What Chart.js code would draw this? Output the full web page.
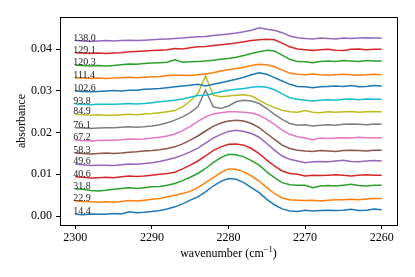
<!DOCTYPE html>
<html>
<head>
<meta charset="utf-8">
<script src="https://cdn.jsdelivr.net/npm/chart.js@4/dist/chart.umd.min.js"></script>
<style>
html,body{margin:0;padding:0;background:#fff;}
#c{display:block;}
</style>
</head>
<body>
<canvas id="c" width="415" height="277"></canvas>
<script>
const wavenumbers = [2300,2299,2298,2297,2296,2295,2294,2293,2292,2291,2290,2289,2288,2287,2286,2285,2284,2283,2282,2281,2280,2279,2278,2277,2276,2275,2274,2273,2272,2271,2270,2269,2268,2267,2266,2265,2264,2263,2262,2261,2260];

const seriesLabels = ['14.4','22.9','31.8','40.6','49.6','58.3','67.2','76.1','84.9','93.8','102.6','111.4','120.3','129.1','138.0'];

const s14_4 = [0.0004,0.0003,0.0005,0.0004,0.0004,0.0006,0.0005,0.0010,0.0008,0.0009,0.0011,0.0013,0.0017,0.0022,0.0029,0.0038,0.0046,0.0058,0.0072,0.0083,0.0090,0.0088,0.0080,0.0068,0.0056,0.0040,0.0027,0.0017,0.0012,0.0011,0.0014,0.0012,0.0013,0.0014,0.0013,0.0014,0.0016,0.0013,0.0014,0.0017,0.0015];
const s22_9 = [0.0036,0.0035,0.0034,0.0033,0.0034,0.0033,0.0035,0.0037,0.0036,0.0038,0.0040,0.0042,0.0046,0.0050,0.0054,0.0059,0.0068,0.0080,0.0092,0.0104,0.0113,0.0112,0.0106,0.0096,0.0084,0.0068,0.0054,0.0043,0.0039,0.0038,0.0037,0.0038,0.0036,0.0038,0.0039,0.0039,0.0040,0.0039,0.0041,0.0042,0.0042];
const s31_8 = [0.0065,0.0064,0.0061,0.0060,0.0062,0.0064,0.0066,0.0068,0.0066,0.0068,0.0070,0.0071,0.0074,0.0078,0.0085,0.0093,0.0102,0.0114,0.0128,0.0140,0.0148,0.0147,0.0142,0.0133,0.0122,0.0106,0.0092,0.0080,0.0075,0.0074,0.0074,0.0068,0.0072,0.0073,0.0072,0.0074,0.0076,0.0073,0.0072,0.0074,0.0074];
const s40_6 = [0.0094,0.0093,0.0091,0.0092,0.0093,0.0092,0.0094,0.0096,0.0095,0.0096,0.0098,0.0100,0.0102,0.0105,0.0113,0.0122,0.0132,0.0144,0.0157,0.0166,0.0172,0.0173,0.0170,0.0162,0.0150,0.0134,0.0120,0.0108,0.0102,0.0100,0.0096,0.0098,0.0097,0.0098,0.0099,0.0098,0.0096,0.0098,0.0099,0.0098,0.0098];
const s49_6 = [0.0124,0.0123,0.0121,0.0122,0.0122,0.0121,0.0123,0.0125,0.0124,0.0126,0.0128,0.0131,0.0135,0.0140,0.0146,0.0154,0.0163,0.0175,0.0187,0.0196,0.0203,0.0206,0.0203,0.0198,0.0189,0.0174,0.0158,0.0144,0.0136,0.0132,0.0128,0.0130,0.0131,0.0130,0.0132,0.0134,0.0131,0.0130,0.0132,0.0133,0.0132];
const s58_3 = [0.0151,0.0150,0.0149,0.0150,0.0151,0.0150,0.0151,0.0153,0.0154,0.0156,0.0157,0.0159,0.0162,0.0166,0.0173,0.0182,0.0192,0.0204,0.0215,0.0223,0.0228,0.0230,0.0228,0.0222,0.0212,0.0198,0.0184,0.0170,0.0162,0.0158,0.0156,0.0155,0.0157,0.0156,0.0155,0.0157,0.0158,0.0157,0.0156,0.0158,0.0158];
const s67_2 = [0.0182,0.0181,0.0180,0.0181,0.0182,0.0182,0.0183,0.0185,0.0184,0.0185,0.0187,0.0189,0.0192,0.0197,0.0205,0.0215,0.0227,0.0238,0.0245,0.0248,0.0250,0.0250,0.0249,0.0247,0.0242,0.0232,0.0220,0.0206,0.0196,0.0190,0.0187,0.0183,0.0187,0.0186,0.0187,0.0188,0.0187,0.0189,0.0188,0.0187,0.0188];
const s76_1 = [0.0212,0.0211,0.0210,0.0211,0.0212,0.0212,0.0213,0.0214,0.0213,0.0214,0.0216,0.0219,0.0224,0.0230,0.0238,0.0248,0.0262,0.0302,0.0262,0.0258,0.0264,0.0274,0.0278,0.0276,0.0270,0.0258,0.0244,0.0232,0.0222,0.0218,0.0219,0.0216,0.0218,0.0219,0.0218,0.0220,0.0221,0.0220,0.0219,0.0221,0.0220];
const s84_9 = [0.0244,0.0243,0.0242,0.0243,0.0242,0.0242,0.0243,0.0244,0.0243,0.0245,0.0246,0.0248,0.0250,0.0253,0.0262,0.0276,0.0294,0.0336,0.0290,0.0286,0.0288,0.0290,0.0291,0.0288,0.0278,0.0268,0.0260,0.0254,0.0250,0.0249,0.0253,0.0249,0.0248,0.0250,0.0249,0.0250,0.0251,0.0249,0.0250,0.0251,0.0250];
const s93_8 = [0.0269,0.0268,0.0267,0.0268,0.0268,0.0268,0.0269,0.0270,0.0269,0.0270,0.0272,0.0274,0.0276,0.0278,0.0281,0.0285,0.0289,0.0290,0.0294,0.0298,0.0302,0.0304,0.0306,0.0309,0.0311,0.0309,0.0303,0.0293,0.0284,0.0280,0.0278,0.0276,0.0278,0.0279,0.0278,0.0280,0.0281,0.0279,0.0281,0.0280,0.0280];
const s102_6 = [0.0300,0.0299,0.0298,0.0299,0.0300,0.0301,0.0300,0.0302,0.0302,0.0304,0.0305,0.0306,0.0308,0.0310,0.0312,0.0314,0.0316,0.0312,0.0316,0.0320,0.0324,0.0328,0.0333,0.0339,0.0344,0.0340,0.0332,0.0324,0.0316,0.0311,0.0310,0.0308,0.0310,0.0311,0.0312,0.0311,0.0313,0.0310,0.0311,0.0313,0.0312];
const s111_4 = [0.0332,0.0331,0.0330,0.0331,0.0330,0.0331,0.0332,0.0333,0.0332,0.0333,0.0334,0.0335,0.0337,0.0338,0.0338,0.0337,0.0339,0.0341,0.0344,0.0348,0.0351,0.0354,0.0357,0.0361,0.0364,0.0363,0.0358,0.0350,0.0343,0.0340,0.0339,0.0341,0.0339,0.0338,0.0339,0.0340,0.0339,0.0338,0.0339,0.0340,0.0339];
const s120_3 = [0.0362,0.0361,0.0360,0.0361,0.0360,0.0361,0.0363,0.0365,0.0364,0.0366,0.0367,0.0368,0.0369,0.0375,0.0369,0.0370,0.0371,0.0372,0.0374,0.0376,0.0378,0.0381,0.0385,0.0390,0.0394,0.0398,0.0396,0.0386,0.0376,0.0371,0.0370,0.0368,0.0371,0.0372,0.0371,0.0373,0.0372,0.0371,0.0373,0.0372,0.0372];
const s129_1 = [0.0392,0.0391,0.0390,0.0391,0.0390,0.0391,0.0392,0.0394,0.0395,0.0396,0.0397,0.0398,0.0399,0.0402,0.0401,0.0404,0.0406,0.0407,0.0409,0.0411,0.0413,0.0415,0.0418,0.0421,0.0423,0.0424,0.0423,0.0415,0.0406,0.0401,0.0399,0.0397,0.0399,0.0400,0.0398,0.0397,0.0400,0.0401,0.0399,0.0400,0.0400];
const s138_0 = [0.0421,0.0420,0.0419,0.0420,0.0421,0.0420,0.0421,0.0422,0.0421,0.0422,0.0423,0.0424,0.0425,0.0426,0.0427,0.0429,0.0430,0.0431,0.0433,0.0435,0.0437,0.0439,0.0442,0.0446,0.0452,0.0448,0.0446,0.0440,0.0432,0.0428,0.0426,0.0425,0.0427,0.0426,0.0425,0.0427,0.0426,0.0427,0.0428,0.0427,0.0427];

const xTicks = [2300, 2290, 2280, 2270, 2260];
const yTicks = [0.00, 0.01, 0.02, 0.03, 0.04];

const allSeries = [s14_4,s22_9,s31_8,s40_6,s49_6,s58_3,s67_2,s76_1,s84_9,s93_8,s102_6,s111_4,s120_3,s129_1,s138_0];
const colors = ['#1f77b4','#ff7f0e','#2ca02c','#d62728','#9467bd','#8c564b','#e377c2','#7f7f7f','#bcbd22','#17becf','#1f77b4','#ff7f0e','#2ca02c','#d62728','#9467bd'];

const FONT = '"Liberation Serif", "Times New Roman", serif';

const datasets = allSeries.map((vals, i) => ({
  label: seriesLabels[i],
  data: wavenumbers.map((w, j) => ({x: w, y: vals[j]})),
  borderColor: colors[i],
  backgroundColor: colors[i],
  borderWidth: 1.5,
  pointRadius: 0,
  tension: 0,
  fill: false,
  order: -i
}));

const overlay = {
  id: 'overlay',
  afterDraw(chart) {
    const ctx = chart.ctx;
    const a = chart.chartArea;
    const xs = chart.scales.x, ys = chart.scales.y;
    ctx.save();
    // top and right spines
    ctx.strokeStyle = '#000';
    ctx.lineWidth = 1;
    ctx.beginPath();
    ctx.moveTo(a.left, a.top + 0.5);
    ctx.lineTo(a.right + 0.5, a.top + 0.5);
    ctx.lineTo(a.right + 0.5, a.bottom);
    ctx.stroke();
    // series labels
    ctx.fillStyle = '#222';
    ctx.font = '10px ' + FONT;
    ctx.textAlign = 'left';
    ctx.textBaseline = 'alphabetic';
    allSeries.forEach((vals, i) => {
      const px = xs.getPixelForValue(wavenumbers[0]) - 2;
      const py = ys.getPixelForValue(vals[0]);
      ctx.fillText(seriesLabels[i], px, py);
    });
    // y title
    ctx.fillStyle = '#000';
    ctx.font = '12px ' + FONT;
    ctx.save();
    ctx.translate(22, (a.top + a.bottom) / 2);
    ctx.rotate(-Math.PI / 2);
    ctx.textAlign = 'center';
    ctx.textBaseline = 'middle';
    ctx.fillText('absorbance', 0, 0);
    ctx.restore();
    // x title with superscript
    const p1 = 'wavenumber (cm', sup = '\u22121', p2 = ')';
    ctx.font = '12px ' + FONT;
    const w1 = ctx.measureText(p1).width, w3 = ctx.measureText(p2).width;
    ctx.font = '8.5px ' + FONT;
    const w2 = ctx.measureText(sup).width;
    const total = w1 + w2 + w3;
    let x0 = (a.left + a.right) / 2 - total / 2;
    const base = 257;
    ctx.textAlign = 'left';
    ctx.textBaseline = 'alphabetic';
    ctx.font = '12px ' + FONT;
    ctx.fillText(p1, x0, base);
    ctx.font = '8.5px ' + FONT;
    ctx.fillText(sup, x0 + w1, base - 5);
    ctx.font = '12px ' + FONT;
    ctx.fillText(p2, x0 + w1 + w2, base);
    ctx.restore();
  }
};

new Chart(document.getElementById('c'), {
  type: 'line',
  data: { datasets },
  options: {
    responsive: false,
    animation: false,
    events: [],
    layout: { padding: { top: 17, right: 18, left: 0, bottom: 0 } },
    plugins: { legend: { display: false }, tooltip: { enabled: false }, title: { display: false } },
    scales: {
      x: {
        type: 'linear',
        reverse: true,
        min: 2258,
        max: 2302,
        afterBuildTicks: s => { s.ticks = xTicks.map(v => ({ value: v })); },
        afterFit: s => { s.height = 52; },
        ticks: { color: '#000', font: { family: FONT, size: 12 }, padding: 2, maxRotation: 0, callback: v => String(v) },
        grid: { drawOnChartArea: false, drawTicks: true, tickLength: 4, color: '#000', lineWidth: 1 },
        border: { display: true, color: '#000', width: 1 }
      },
      y: {
        type: 'linear',
        min: -0.00216,
        max: 0.04776,
        afterBuildTicks: s => { s.ticks = yTicks.map(v => ({ value: v })); },
        afterFit: s => { s.width = 60; },
        ticks: { color: '#000', font: { family: FONT, size: 12 }, padding: 4, callback: v => v.toFixed(2) },
        grid: { drawOnChartArea: false, drawTicks: true, tickLength: 4, color: '#000', lineWidth: 1 },
        border: { display: true, color: '#000', width: 1 }
      }
    }
  },
  plugins: [overlay]
});
</script>
</body>
</html>
